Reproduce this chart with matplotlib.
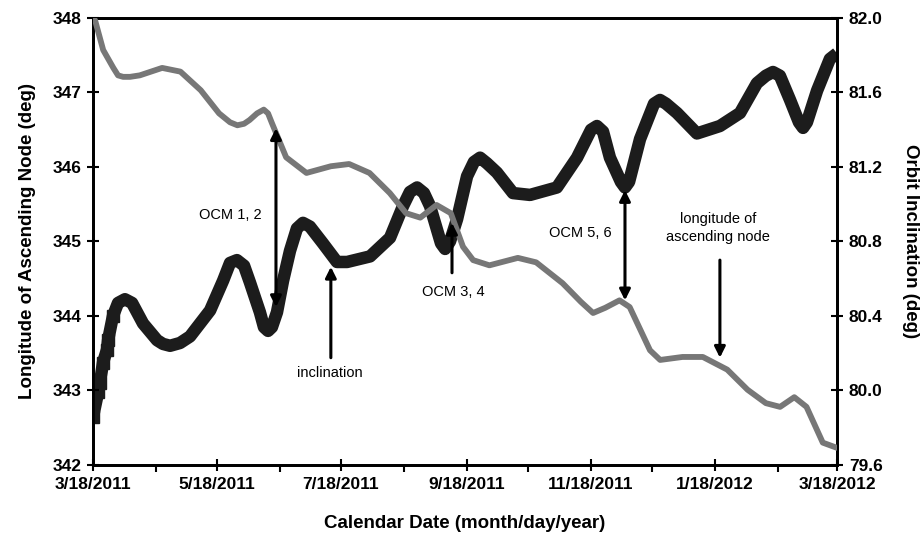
import matplotlib.pyplot as plt
import matplotlib.dates as mdates
import numpy as np

plt.rcParams['font.family'] = ['Liberation Sans', 'DejaVu Sans']

# days since 3/18/2011
raan_days = [0, 1, 5, 10, 12.3, 14.8, 18.2, 23, 34, 43, 53, 62, 67.4, 71, 74.3, 77,
             80.7, 84, 86.1, 88, 95, 105, 117, 126, 136, 146, 154, 161, 169, 176, 182,
             187, 195, 209, 218, 231, 240, 246, 252, 259, 264, 274, 279, 290, 300, 312,
             322, 331, 338, 345, 351, 359, 366]
raan_deg = [348.0, 347.97, 347.57, 347.33, 347.23, 347.21, 347.21, 347.23, 347.33,
            347.28, 347.03, 346.72, 346.60, 346.56, 346.58, 346.63, 346.72, 346.77,
            346.72, 346.59, 346.13, 345.92, 346.01, 346.04, 345.92, 345.65, 345.38,
            345.32, 345.49, 345.38, 344.93, 344.75, 344.68, 344.78, 344.72, 344.44,
            344.19, 344.04, 344.11, 344.21, 344.12, 343.54, 343.41, 343.45, 343.45,
            343.28, 343.01, 342.83, 342.78, 342.91, 342.78, 342.30, 342.23]

inc_days = [0, 2.5, 3.4, 4.9, 6.9, 7.4, 9.8, 12.3, 15.7, 19.2, 24.6, 31.5, 34.4, 37.9,
            42.8, 47.7, 57.6, 64, 67.4, 70.8, 74.3, 77.2, 82.1, 84.1, 86.1, 88, 90.5,
            93.5, 96.9, 100.3, 103.3, 106.7, 113.1, 120, 125, 136.3, 146.1, 152.5,
            155.9, 159.4, 162.8, 165.8, 171.2, 173.2, 175.6, 179.1, 184, 187.4, 190.4,
            193.8, 198.7, 206.6, 215, 228.2, 238.1, 245, 247.9, 250.9, 254.3, 259.7,
            261.7, 263.7, 269.1, 276, 278.9, 281.9, 287.3, 297.1, 308.4, 318.3, 326.6,
            331, 334.5, 337.9, 342.9, 347.3, 349.3, 351.2, 356.2, 362.5, 366]
inc_deg = [79.86, 79.99, 80.04, 80.15, 80.22, 80.27, 80.40, 80.47, 80.49, 80.47,
           80.36, 80.27, 80.25, 80.24, 80.255, 80.29, 80.43, 80.59, 80.685, 80.70,
           80.67, 80.58, 80.42, 80.34, 80.32, 80.34, 80.42, 80.59, 80.75, 80.87,
           80.90, 80.88, 80.79, 80.69, 80.69, 80.72, 80.82, 80.99, 81.066, 81.09,
           81.06, 80.99, 80.79, 80.76, 80.80, 80.92, 81.15, 81.227, 81.25, 81.22,
           81.17, 81.06, 81.05, 81.09, 81.25, 81.40, 81.42, 81.39, 81.25, 81.12,
           81.09, 81.12, 81.35, 81.54, 81.56, 81.54, 81.49, 81.38, 81.42, 81.49,
           81.65, 81.69, 81.71, 81.69, 81.56, 81.44, 81.41, 81.44, 81.61, 81.78,
           81.81]

tick_dates = ['2011-03-18', '2011-05-18', '2011-07-18', '2011-09-18',
              '2011-11-18', '2012-01-18', '2012-03-18']
tick_labels = ['3/18/2011', '5/18/2011', '7/18/2011', '9/18/2011',
               '11/18/2011', '1/18/2012', '3/18/2012']
minor_dates = ['2011-04-18', '2011-06-18', '2011-08-18', '2011-10-18',
               '2011-12-18', '2012-02-18']

start = np.datetime64('2011-03-18')


def to_date(days):
    return start + (np.array(days) * 24 * 3600).astype('timedelta64[s]')


fig = plt.figure(figsize=(9.22, 5.42), dpi=100)
ax = fig.add_axes([0.1009, 0.1421, 0.8069, 0.8247])
ax2 = ax.twinx()

ax.plot(to_date(raan_days), raan_deg, color='#777777', lw=4.2,
        solid_capstyle='round', solid_joinstyle='round', zorder=3)
ax2.plot(to_date(inc_days), inc_deg, color='#1c1c1c', lw=9,
         solid_capstyle='butt', solid_joinstyle='round', zorder=3)
# square markers visible where the series climbs steeply at the start
ax2.plot(to_date(inc_days[:7]), inc_deg[:7], ls='none', marker='s', ms=8,
         color='#1c1c1c', zorder=3)

ax.set_xlim(to_date([0])[0], to_date([366])[0])
ax.set_ylim(342, 348)
ax2.set_ylim(79.6, 82.0)
ax.set_yticks(np.arange(342, 349, 1))
ax2.set_yticks(np.arange(79.6, 82.01, 0.4))
ax2.set_yticklabels([f'{v:.1f}' for v in np.arange(79.6, 82.01, 0.4)])

ax.set_xticks(np.array(tick_dates, dtype='datetime64[D]'))
ax.set_xticklabels(tick_labels)
ax.set_xticks(np.array(minor_dates, dtype='datetime64[D]'), minor=True)

for a in (ax, ax2):
    for s in a.spines.values():
        s.set_linewidth(2)
ax.tick_params(axis='both', which='major', direction='inout', length=9, width=1.5,
               labelsize=12.5, pad=4)
ax.tick_params(axis='x', which='minor', direction='out', length=5, width=1.5)
ax2.tick_params(axis='y', direction='inout', length=9, width=1.5, labelsize=12.5, pad=4)
for lab in ax.get_xticklabels() + ax.get_yticklabels() + ax2.get_yticklabels():
    lab.set_fontweight('bold')

ax.set_ylabel('Longitude of Ascending Node (deg)', fontsize=13.5, fontweight='bold', labelpad=12)
ax2.set_ylabel('Orbit Inclination (deg)', fontsize=13.5, fontweight='bold', rotation=270,
               labelpad=26)
ax.set_xlabel('Calendar Date (month/day/year)', fontsize=13.5, fontweight='bold', labelpad=17)

ax.set_zorder(ax2.get_zorder() + 1)
ax.patch.set_visible(False)

box = dict(facecolor='white', edgecolor='none', pad=2)
arrow1 = dict(arrowstyle='-|>', color='black', lw=2.2, mutation_scale=16, shrinkA=0, shrinkB=0)
arrow2 = dict(arrowstyle='<|-|>', color='black', lw=2.2, mutation_scale=16, shrinkA=0, shrinkB=0)

d = lambda x: mdates.date2num(to_date([x])[0])

ax.annotate('', xy=(d(90), 346.52), xytext=(d(90), 344.12), arrowprops=arrow2, zorder=5)
ax.text(d(67.4), 345.36, 'OCM 1, 2', fontsize=10.5, ha='center', va='center', bbox=box, zorder=4)

ax.annotate('', xy=(d(117), 344.66), xytext=(d(117), 343.44), arrowprops=arrow1, zorder=5)
ax.text(d(116.6), 343.23, 'inclination', fontsize=10.5, ha='center', va='center', bbox=box, zorder=4)

ax.annotate('', xy=(d(176.6), 345.25), xytext=(d(176.6), 344.58), arrowprops=arrow1, zorder=5)
ax.text(d(177.1), 344.32, 'OCM 3, 4', fontsize=10.5, ha='center', va='center', bbox=box, zorder=4)

ax.annotate('', xy=(d(261.7), 345.69), xytext=(d(261.7), 344.21), arrowprops=arrow2, zorder=5)
ax.text(d(239.6), 345.11, 'OCM 5, 6', fontsize=10.5, ha='center', va='center', bbox=box, zorder=4)

ax.annotate('', xy=(d(308.4), 343.44), xytext=(d(308.4), 344.75), arrowprops=arrow1, zorder=5)
ax.text(d(307.4), 345.18, 'longitude of\nascending node', fontsize=10.5, ha='center',
        va='center', bbox=box, zorder=4, linespacing=1.3)

fig.savefig('out.png', dpi=100)
